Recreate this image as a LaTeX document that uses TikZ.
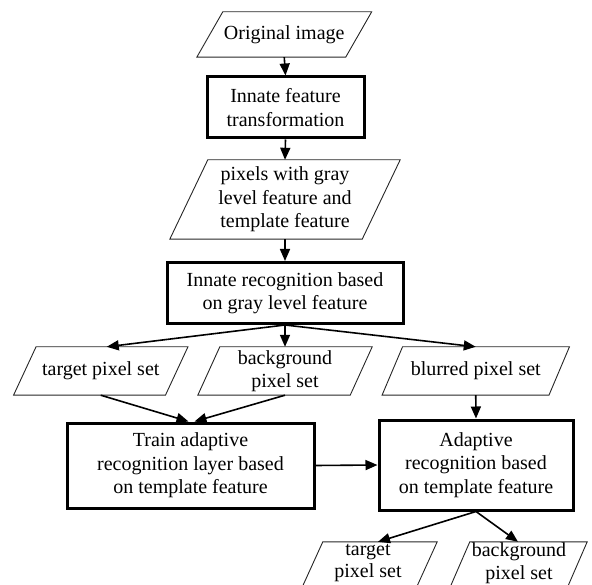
\documentclass[tikz,border=0pt]{standalone}
\usepackage{fontspec}
\setmainfont{Liberation Serif}
\usetikzlibrary{arrows.meta,calc}
\tikzset{
  boxnode/.style={draw, line width=3pt, inner sep=0pt, align=center, font=\fontsize{20}{23.5}\selectfont},
  paratext/.style={inner sep=0pt, align=center, font=\fontsize{20}{23.5}\selectfont},
  parashape/.style={draw=black!85, line width=0.9pt, line join=miter},
  flow/.style={line width=1.6pt, -{Triangle[length=12pt,width=10pt]}},
}
% name, x, y, width, height, slant, text
\newcommand\paranode[7]{%
  \node[paratext, minimum width=#4pt, minimum height=#5pt] (#1) at (#2,#3) {#7};
  \draw[parashape] ($(#1.north west)+(#6/2,0)$) -- ($(#1.north east)+(#6/2,0)$)
    -- ($(#1.south east)-(#6/2,0)$) -- ($(#1.south west)-(#6/2,0)$) -- cycle;
}
\begin{document}
\begin{tikzpicture}[x=1pt,y=-1pt]
\useasboundingbox (0,0) rectangle (592,585);
\clip (0,0) rectangle (592,585);

\paranode{orig}{284.25}{34.5}{148.5}{45}{26}{Original image}
\node[boxnode, minimum width=157pt, minimum height=61pt] (feat) at (285.5,107.5) {Innate feature\\transformation};
\paranode{pix}{285}{199.5}{192}{79}{38}{pixels with gray\\level feature and\\template feature}
\node[boxnode, minimum width=236pt, minimum height=61pt] (innate) at (285,293) {Innate recognition based\\on gray level feature};

\paranode{tgta}{100.75}{371}{151.5}{48}{22.5}{target pixel set}
\paranode{bga}{285}{371}{152}{48}{22}{background\\pixel set}
\paranode{blur}{475.75}{371}{166.5}{48}{20.5}{blurred pixel set}

\node[boxnode, minimum width=247pt, minimum height=85pt] (train) at (190.5,465.5) {Train adaptive\\recognition layer based\\on template feature};
\node[boxnode, minimum width=194pt, minimum height=90pt] (adapt) at (476,465) {Adaptive\\recognition based\\on template feature};

\node[paratext, minimum width=114pt, minimum height=48pt] (tgtb) at (369,566) {};
\node[paratext, font=\fontsize{20}{22.5}\selectfont] (tgtbtext) at (368,563) {target\\pixel set};
\draw[parashape] ($(tgtb.north west)+(11,0)$) -- ($(tgtb.north east)+(11,0)$)
  -- ($(tgtb.south east)-(11,0)$) -- ($(tgtb.south west)-(11,0)$) -- cycle;
\node[paratext, minimum width=117pt, minimum height=48pt] (bgb) at (518,566) {};
\node[paratext, font=\fontsize{20}{22.5}\selectfont] (bgbtext) at (519,563) {background\\pixel set};
\draw[parashape] ($(bgb.north west)+(10.5,0)$) -- ($(bgb.north east)+(10.5,0)$)
  -- ($(bgb.south east)-(10.5,0)$) -- ($(bgb.south west)-(10.5,0)$) -- cycle;

\draw[flow] (orig.south) -- (feat.north);
\draw[flow] (feat.south) -- (pix.north);
\draw[flow] (pix.south) -- (innate.north);
\draw[flow] (innate.south) -- ($(tgta.north)+(6,0)$);
\draw[flow] (innate.south) -- (bga.north);
\draw[flow] (innate.south) -- (blur.north);
\draw[flow] (tgta.south) -- ($(train.north)+(-2,0)$);
\draw[flow] (bga.south) -- ($(train.north)+(4,0)$);
\draw[flow] (blur.south) -- (adapt.north);
\draw[flow] (train.east) -- (adapt.west);
\draw[flow] (adapt.south) -- ($(tgtb.north)+(9,0)$);
\draw[flow] (adapt.south) -- (bgb.north);
\end{tikzpicture}
\end{document}
